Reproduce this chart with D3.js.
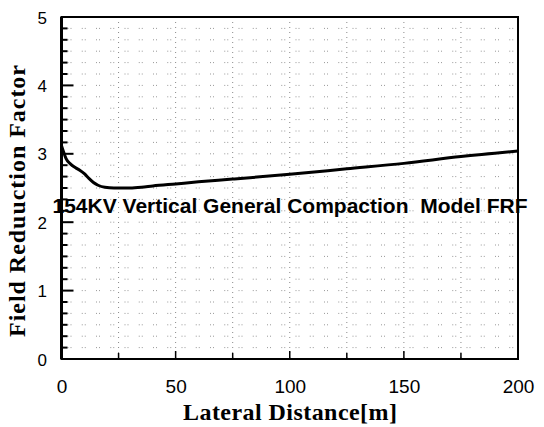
<!DOCTYPE html>
<html>
<head>
<meta charset="utf-8">
<script src="https://cdn.jsdelivr.net/npm/d3@7"></script>
<style>
  body { margin: 0; background: #fff; }
  #chart-area { width: 544px; height: 427px; }
  .tick text { font-family: Arial, "Liberation Sans", sans-serif; fill: #000; }
  .axis-title { font-family: "Times New Roman", "Liberation Serif", serif; font-weight: bold; }
</style>
</head>
<body>
<div id="chart-area"></div>
<script>
// DATA

let distance = [0, 1, 2, 4, 6, 8, 10, 12, 14, 16, 19, 23, 30, 35, 40, 50, 60, 75, 100, 125, 150, 175, 200];
let frf = [3.12, 3.02, 2.93, 2.85, 2.80, 2.76, 2.71, 2.64, 2.58, 2.54, 2.51, 2.50, 2.50, 2.51, 2.53, 2.56, 2.59, 2.63, 2.70, 2.78, 2.86, 2.96, 3.04];

let xTicks = [0, 50, 100, 150, 200];
let yTicks = [0, 1, 2, 3, 4, 5];
let xMinor = d3.range(0, 201, 25);
let yMinor = d3.range(0, 31).map(function(i) { return i / 6; });

let annotation = "154KV Vertical General Compaction\u00a0 Model FRF";

// CHART AREA

let margin = { top: 17, right: 26, bottom: 68, left: 61.5 },
  width = 544 - margin.left - margin.right,
  height = 427 - margin.top - margin.bottom;

let svg = d3
  .select("#chart-area")
  .append("svg")
  .attr("width", 544)
  .attr("height", 427)
  .append("g")
  .attr("transform", "translate(" + margin.left + "," + margin.top + ")");

let x = d3.scaleLinear().domain([0, 200]).range([0, width]);
let y = d3.scaleLinear().domain([0, 5]).range([height, 0]);

// GRID (dotted)

svg.append("g")
  .selectAll("line")
  .data(yMinor.slice(1, -1))
  .enter()
  .append("line")
  .attr("x1", 0)
  .attr("x2", width)
  .attr("y1", function(d) { return y(d); })
  .attr("y2", function(d) { return y(d); })
  .attr("stroke", "#999")
  .attr("stroke-width", 1)
  .attr("stroke-dasharray", "1,2,1,10.25")
  .attr("stroke-dashoffset", -6);

svg.append("g")
  .selectAll("line")
  .data(xMinor.slice(1, -1))
  .enter()
  .append("line")
  .attr("x1", function(d) { return x(d); })
  .attr("x2", function(d) { return x(d); })
  .attr("y1", 0)
  .attr("y2", height)
  .attr("stroke", "#888")
  .attr("stroke-width", 1)
  .attr("stroke-dasharray", "1,4");

// AXIS

let xAxis = d3.axisBottom(x).tickValues(xTicks).tickSize(0).tickPadding(21);
let yAxis = d3.axisLeft(y).tickValues(yTicks).tickFormat(d3.format("d")).tickSize(0).tickPadding(14.5);

let xAxisGroup = svg.append("g")
  .attr("class", "x-axis axis")
  .attr("transform", "translate(0," + height + ")")
  .call(xAxis);
xAxisGroup.select(".domain").remove();
xAxisGroup.selectAll("text").style("font-size", "19px");

let yAxisGroup = svg.append("g")
  .attr("class", "y-axis axis")
  .call(yAxis);
yAxisGroup.select(".domain").remove();
yAxisGroup.selectAll("text").style("font-size", "17px").attr("dy", "0.36em");

// inward ticks
svg.append("g")
  .selectAll("line")
  .data(yMinor)
  .enter()
  .append("line")
  .attr("x1", 0)
  .attr("x2", function(d) { return Math.abs(d - Math.round(d)) < 1e-6 ? 12 : 6; })
  .attr("y1", function(d) { return y(d); })
  .attr("y2", function(d) { return y(d); })
  .attr("stroke", "#000")
  .attr("stroke-width", 2);

svg.append("g")
  .selectAll("line")
  .data(xMinor)
  .enter()
  .append("line")
  .attr("x1", function(d) { return x(d); })
  .attr("x2", function(d) { return x(d); })
  .attr("y1", height)
  .attr("y2", function(d) { return d % 50 === 0 ? height - 8 : height - 6; })
  .attr("stroke", "#000")
  .attr("stroke-width", 1.5);

// frame
svg.append("rect")
  .attr("x", 0)
  .attr("y", 0)
  .attr("width", width)
  .attr("height", height)
  .attr("fill", "none")
  .attr("stroke", "#000")
  .attr("stroke-width", 2);

svg.append("line")
  .attr("x1", 0).attr("x2", 0)
  .attr("y1", 0).attr("y2", height)
  .attr("stroke", "#000")
  .attr("stroke-width", 3);

// ---- CURVE ----
let points = distance.map(function(d, i) { return [d, frf[i]]; });

let line = d3.line()
  .x(function(d) { return x(d[0]); })
  .y(function(d) { return y(d[1]); })
  .curve(d3.curveMonotoneX);

svg.append("path")
  .datum(points)
  .attr("d", line)
  .attr("fill", "none")
  .attr("stroke", "#000")
  .attr("stroke-width", 3);

// annotation
svg.append("text")
  .attr("x", -9)
  .attr("y", 196)
  .style("font-family", "Arial, 'Liberation Sans', sans-serif")
  .style("font-weight", "bold")
  .style("font-size", "21px")
  .text(annotation);

// titles
svg.append("text")
  .attr("class", "axis-title")
  .attr("transform", "translate(" + (290 - margin.left) + "," + (height + 61) + ")")
  .style("text-anchor", "middle")
  .style("font-size", "24px")
  .attr("textLength", 214)
  .attr("lengthAdjust", "spacing")
  .text("Lateral Distance[m]");

svg.append("text")
  .attr("class", "axis-title")
  .attr("transform", "translate(" + (-36.5) + "," + 184 + ") rotate(-90)")
  .style("text-anchor", "middle")
  .style("font-size", "24px")
  .attr("textLength", 272)
  .attr("lengthAdjust", "spacing")
  .text("Field Reduuction Factor");
</script>
</body>
</html>
